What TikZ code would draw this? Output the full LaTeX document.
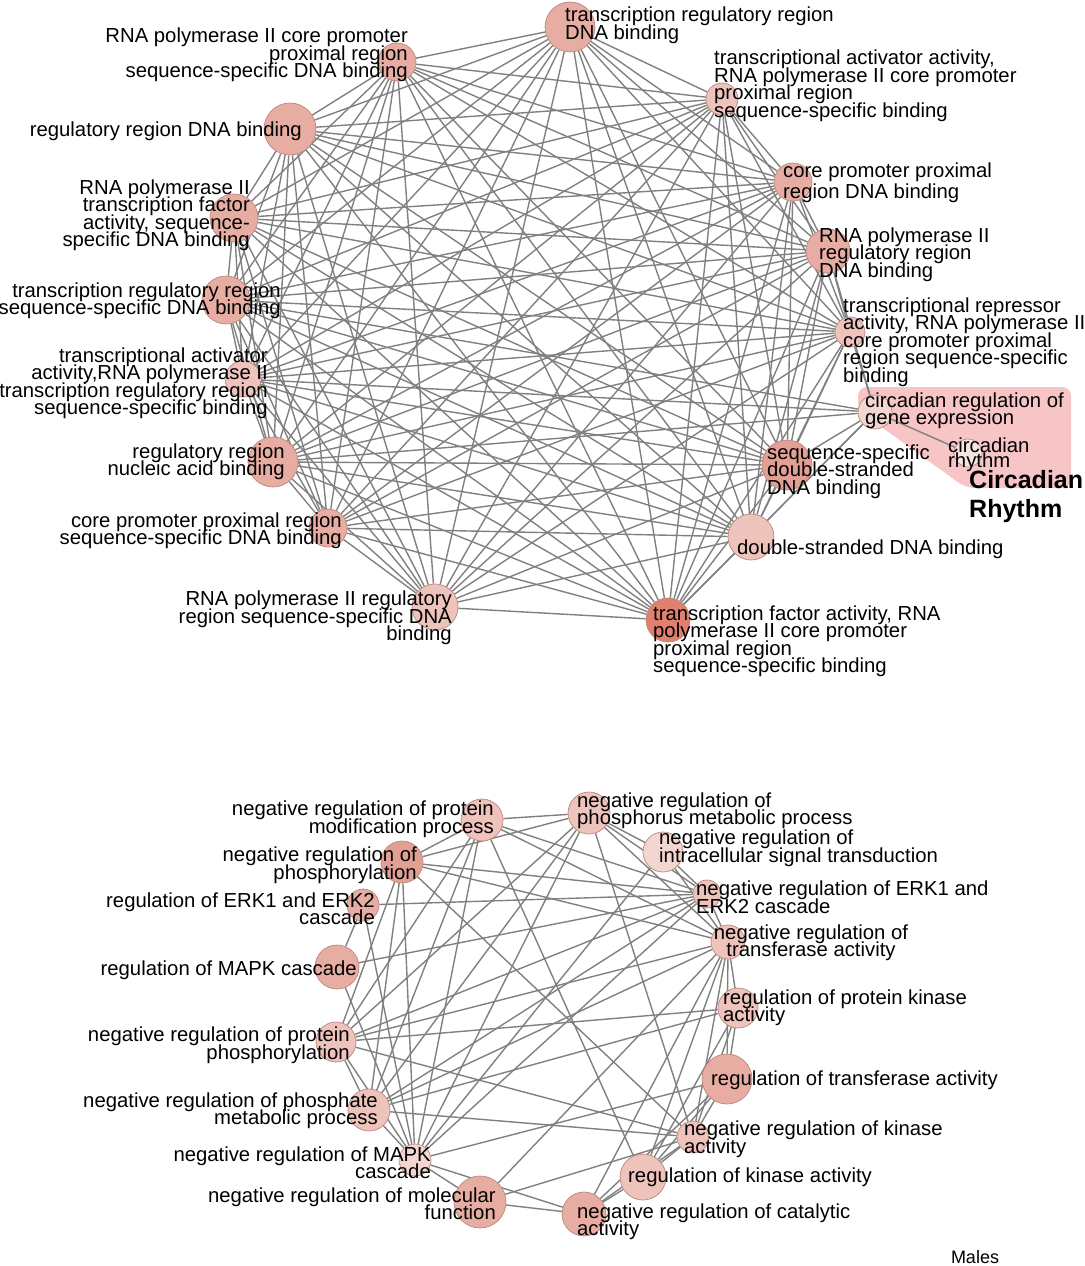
\documentclass[tikz,border=0pt]{standalone}
\usepackage{fontspec}
\setmainfont{Liberation Sans}
\usetikzlibrary{backgrounds}
\definecolor{termmid}{RGB}{231,173,163}
\definecolor{termpale}{RGB}{238,195,188}
\definecolor{termfaint}{RGB}{243,214,209}
\definecolor{termghost}{RGB}{246,228,225}
\definecolor{termdeep}{RGB}{226,160,148}
\definecolor{termdark}{RGB}{224,128,111}
\definecolor{termline}{RGB}{185,135,125}
\definecolor{linkgray}{RGB}{128,128,128}
\definecolor{circadian}{RGB}{248,197,199}
\begin{document}
\begin{tikzpicture}[x=1pt,y=-1pt,
    term/.style={circle,draw=termline,line width=0.7pt,inner sep=0pt},
    mid/.style={term,fill=termmid},
    pale/.style={term,fill=termpale},
    faint/.style={term,fill=termfaint},
    ghost/.style={term,fill=termghost},
    deep/.style={term,fill=termdeep},
    dark/.style={term,fill=termdark},
    lbl/.style={inner sep=0pt,yshift=-2pt,font={\fontsize{20.3}{17.5}\selectfont\lineskiplimit=-30pt}},
    lw/.style={lbl,anchor=west,align=left},
    le/.style={lbl,anchor=east,align=right}]
  \useasboundingbox (0,0) rectangle (1084,1266);
  % transcription / DNA binding network
  \draw
    (570,27) node[mid,minimum size=50pt] (t0){}
    (397,62) node[mid,minimum size=38pt] (t1){}
    (722,99) node[pale,minimum size=32pt] (t2){}
    (290,129) node[mid,minimum size=52pt] (t3){}
    (793,182) node[mid,minimum size=38pt] (t4){}
    (234,218) node[mid,minimum size=48pt] (t5){}
    (828,251) node[mid,minimum size=44pt] (t6){}
    (226,300) node[mid,minimum size=48pt] (t7){}
    (850,332) node[pale,minimum size=30pt] (t8){}
    (243,379) node[pale,minimum size=36pt] (t9){}
    (875,412) node[faint,minimum size=34pt] (t10){}
    (968,453) node[ghost,minimum size=28pt] (t11){}
    (273,462) node[mid,minimum size=50pt] (t12){}
    (787,465) node[deep,minimum size=50pt] (t13){}
    (328,528) node[mid,minimum size=38pt] (t14){}
    (751,537) node[pale,minimum size=46pt] (t15){}
    (435,607) node[pale,minimum size=46pt] (t16){}
    (668,620) node[dark,minimum size=44pt] (t17){};
  % MAPK / kinase network
  \draw
    (482,820) node[pale,minimum size=42pt] (b0){}
    (589,813) node[pale,minimum size=42pt] (b1){}
    (663,852) node[faint,minimum size=40pt] (b2){}
    (402,862) node[deep,minimum size=42pt] (b3){}
    (363,905) node[mid,minimum size=32pt] (b4){}
    (707,894) node[pale,minimum size=28pt] (b5){}
    (728,942) node[pale,minimum size=34pt] (b6){}
    (337,967) node[mid,minimum size=44pt] (b7){}
    (738,1008) node[pale,minimum size=40pt] (b8){}
    (336,1042) node[pale,minimum size=40pt] (b9){}
    (727,1079) node[mid,minimum size=50pt] (b10){}
    (369,1110) node[pale,minimum size=42pt] (b11){}
    (693,1137) node[pale,minimum size=32pt] (b12){}
    (415,1160) node[faint,minimum size=32pt] (b13){}
    (643,1177) node[pale,minimum size=46pt] (b14){}
    (480,1202) node[mid,minimum size=52pt] (b15){}
    (584,1214) node[mid,minimum size=44pt] (b16){};
  \begin{scope}[on background layer={color=linkgray,line width=1.4pt}]
    \fill[circadian,rounded corners=9pt] (858,387) -- (858,410) -- (966,488) -- (1071,488) -- (1071,387) -- cycle;
    \draw (t0) to (t1);
    \draw (t0) to (t2);
    \draw (t0) to (t3);
    \draw (t0) to (t4);
    \draw (t0) to (t5);
    \draw (t0) to (t6);
    \draw (t0) to (t7);
    \draw (t0) to (t8);
    \draw (t0) to (t9);
    \draw (t0) to (t12);
    \draw (t0) to (t13);
    \draw (t0) to (t14);
    \draw (t0) to (t15);
    \draw (t0) to (t16);
    \draw (t0) to (t17);
    \draw (t1) to (t2);
    \draw (t1) to (t3);
    \draw (t1) to (t4);
    \draw (t1) to (t5);
    \draw (t1) to (t6);
    \draw (t1) to (t7);
    \draw (t1) to (t8);
    \draw (t1) to (t9);
    \draw (t1) to (t12);
    \draw (t1) to (t13);
    \draw (t1) to (t14);
    \draw (t1) to (t15);
    \draw (t1) to (t16);
    \draw (t1) to (t17);
    \draw (t2) to (t3);
    \draw (t2) to (t4);
    \draw (t2) to (t5);
    \draw (t2) to (t6);
    \draw (t2) to (t7);
    \draw (t2) to (t8);
    \draw (t2) to (t9);
    \draw (t2) to (t12);
    \draw (t2) to (t13);
    \draw (t2) to (t14);
    \draw (t2) to (t15);
    \draw (t2) to (t16);
    \draw (t2) to (t17);
    \draw (t3) to (t4);
    \draw (t3) to (t5);
    \draw (t3) to (t6);
    \draw (t3) to (t7);
    \draw (t3) to (t8);
    \draw (t3) to (t9);
    \draw (t3) to (t12);
    \draw (t3) to (t13);
    \draw (t3) to (t14);
    \draw (t3) to (t15);
    \draw (t3) to (t16);
    \draw (t3) to (t17);
    \draw (t4) to (t5);
    \draw (t4) to (t6);
    \draw (t4) to (t7);
    \draw (t4) to (t8);
    \draw (t4) to (t9);
    \draw (t4) to (t12);
    \draw (t4) to (t13);
    \draw (t4) to (t14);
    \draw (t4) to (t15);
    \draw (t4) to (t16);
    \draw (t4) to (t17);
    \draw (t5) to (t6);
    \draw (t5) to (t7);
    \draw (t5) to (t8);
    \draw (t5) to (t9);
    \draw (t5) to (t12);
    \draw (t5) to (t13);
    \draw (t5) to (t14);
    \draw (t5) to (t15);
    \draw (t5) to (t16);
    \draw (t5) to (t17);
    \draw (t6) to (t7);
    \draw (t6) to (t8);
    \draw (t6) to (t9);
    \draw (t6) to (t12);
    \draw (t6) to (t13);
    \draw (t6) to (t14);
    \draw (t6) to (t15);
    \draw (t6) to (t16);
    \draw (t6) to (t17);
    \draw (t7) to (t8);
    \draw (t7) to (t9);
    \draw (t7) to (t12);
    \draw (t7) to (t13);
    \draw (t7) to (t14);
    \draw (t7) to (t15);
    \draw (t7) to (t16);
    \draw (t7) to (t17);
    \draw (t8) to (t9);
    \draw (t8) to (t12);
    \draw (t8) to (t13);
    \draw (t8) to (t14);
    \draw (t8) to (t15);
    \draw (t8) to (t16);
    \draw (t8) to (t17);
    \draw (t9) to (t12);
    \draw (t9) to (t13);
    \draw (t9) to (t14);
    \draw (t9) to (t15);
    \draw (t9) to (t16);
    \draw (t9) to (t17);
    \draw (t12) to (t13);
    \draw (t12) to (t14);
    \draw (t12) to (t15);
    \draw (t12) to (t16);
    \draw (t12) to (t17);
    \draw (t13) to (t14);
    \draw (t13) to (t15);
    \draw (t13) to (t16);
    \draw (t13) to (t17);
    \draw (t14) to (t15);
    \draw (t14) to (t16);
    \draw (t14) to (t17);
    \draw (t15) to (t16);
    \draw (t15) to (t17);
    \draw (t16) to (t17);
    \draw (t10) to (t6);
    \draw (t10) to (t7);
    \draw (t10) to (t8);
    \draw (t10) to (t9);
    \draw (t10) to (t12);
    \draw (t10) to (t13);
    \draw (t10) to (t15);
    \draw (t10) to (t17);
    \draw (t10) to (t11);
    \draw (b0) to (b1);
    \draw (b0) to (b3);
    \draw (b0) to (b5);
    \draw (b0) to (b6);
    \draw (b0) to (b9);
    \draw (b0) to (b11);
    \draw (b0) to (b13);
    \draw (b0) to (b14);
    \draw (b1) to (b2);
    \draw (b1) to (b3);
    \draw (b1) to (b5);
    \draw (b1) to (b6);
    \draw (b1) to (b9);
    \draw (b1) to (b11);
    \draw (b1) to (b12);
    \draw (b1) to (b13);
    \draw (b2) to (b5);
    \draw (b2) to (b6);
    \draw (b2) to (b13);
    \draw (b3) to (b5);
    \draw (b3) to (b6);
    \draw (b3) to (b9);
    \draw (b3) to (b11);
    \draw (b3) to (b12);
    \draw (b3) to (b13);
    \draw (b4) to (b5);
    \draw (b4) to (b7);
    \draw (b4) to (b13);
    \draw (b5) to (b6);
    \draw (b5) to (b7);
    \draw (b5) to (b9);
    \draw (b5) to (b11);
    \draw (b5) to (b13);
    \draw (b6) to (b8);
    \draw (b6) to (b9);
    \draw (b6) to (b10);
    \draw (b6) to (b11);
    \draw (b6) to (b12);
    \draw (b6) to (b14);
    \draw (b6) to (b15);
    \draw (b6) to (b16);
    \draw (b7) to (b13);
    \draw (b8) to (b9);
    \draw (b8) to (b10);
    \draw (b8) to (b12);
    \draw (b8) to (b14);
    \draw (b9) to (b11);
    \draw (b9) to (b12);
    \draw (b9) to (b13);
    \draw (b10) to (b12);
    \draw (b10) to (b13);
    \draw (b10) to (b14);
    \draw (b10) to (b16);
    \draw (b11) to (b8);
    \draw (b11) to (b12);
    \draw (b11) to (b13);
    \draw (b12) to (b14);
    \draw (b12) to (b15);
    \draw (b12) to (b16);
    \draw (b13) to (b15);
    \draw (b13) to (b16);
    \draw (b14) to (b16);
    \draw (b15) to (b16);
  \end{scope}
  % labels
  \draw
    (565,23.5) node[lw] (t0l){transcription regulatory region\\DNA binding}
    (408,53) node[le] (t1l){RNA polymerase II core promoter\\proximal region\\sequence-specific DNA binding}
    (714,84) node[lw] (t2l){transcriptional activator activity,\\RNA polymerase II core promoter\\proximal region\\sequence-specific binding}
    (302,129) node[le] (t3l){regulatory region DNA binding}
    (783,180.5) node[lw] (t4l){core promoter proximal\\[3pt]region DNA binding}
    (250,213) node[le] (t5l){RNA polymerase II\\transcription factor\\activity, sequence-\\specific DNA binding}
    (281,298.5) node[le] (t7l){transcription regulatory region\\sequence-specific DNA binding}
    (819,252.5) node[lw] (t6l){RNA polymerase II\\regulatory region\\DNA binding}
    (843,340) node[lw] (t8l){transcriptional repressor\\activity, RNA polymerase II\\core promoter proximal\\region sequence-specific\\binding}
    (268,381) node[le] (t9l){transcriptional activator\\activity,RNA polymerase II\\transcription regulatory region\\sequence-specific binding}
    (865,408.5) node[lw] (t10l){circadian regulation of\\gene expression}
    (948,452.5) node[lw,font={\fontsize{20.3}{15}\selectfont\lineskiplimit=-30pt}] (t11l){circadian\\rhythm}
    (285,459.5) node[le] (t12l){regulatory region\\nucleic acid binding}
    (767,469.5) node[lw] (t13l){sequence-specific\\double-stranded\\DNA binding}
    (342,528.5) node[le] (t14l){core promoter proximal region\\sequence-specific DNA binding}
    (737,547) node[lw] (t15l){double-stranded DNA binding}
    (452,616) node[le] (t16l){RNA polymerase II regulatory\\region sequence-specific DNA\\binding}
    (653,639) node[lw] (t17l){transcription factor activity, RNA\\polymerase II core promoter\\proximal region\\sequence-specific binding}
    (969,495) node[lw,font={\fontsize{25}{29}\selectfont\bfseries}] (rhythm){Circadian\\Rhythm};
  \draw
    (494,817) node[le] (b0l){negative regulation of protein\\modification process}
    (577,808.5) node[lw] (b1l){negative regulation of\\phosphorus metabolic process}
    (659,846) node[lw] (b2l){negative regulation of\\intracellular signal transduction}
    (417,863) node[le] (b3l){negative regulation of\\phosphorylation}
    (375,906.5) node[le] (b4l){regulation of ERK1 and ERK2\\cascade}
    (696,895) node[lw] (b5l){negative regulation of ERK1 and\\ERK2 cascade}
    (811,940.5) node[lbl,align=center] (b6l){negative regulation of\\transferase activity}
    (357,968) node[le] (b7l){regulation of MAPK cascade}
    (723,1005.5) node[lw] (b8l){regulation of protein kinase\\activity}
    (350,1043) node[le] (b9l){negative regulation of protein\\phosphorylation}
    (711,1078) node[lw] (b10l){regulation of transferase activity}
    (378,1108.5) node[le] (b11l){negative regulation of phosphate\\metabolic process}
    (684,1137) node[lw] (b12l){negative regulation of kinase\\activity}
    (431,1160.5) node[le] (b13l){negative regulation of MAPK\\cascade}
    (628,1175) node[lw] (b14l){regulation of kinase activity}
    (496,1201.5) node[le] (b15l){negative regulation of molecular\\function}
    (577,1219.5) node[lw] (b16l){negative regulation of catalytic\\activity}
    (975,1255) node[lbl,font={\fontsize{18}{18}\selectfont}] (males){Males};
\end{tikzpicture}
\end{document}
